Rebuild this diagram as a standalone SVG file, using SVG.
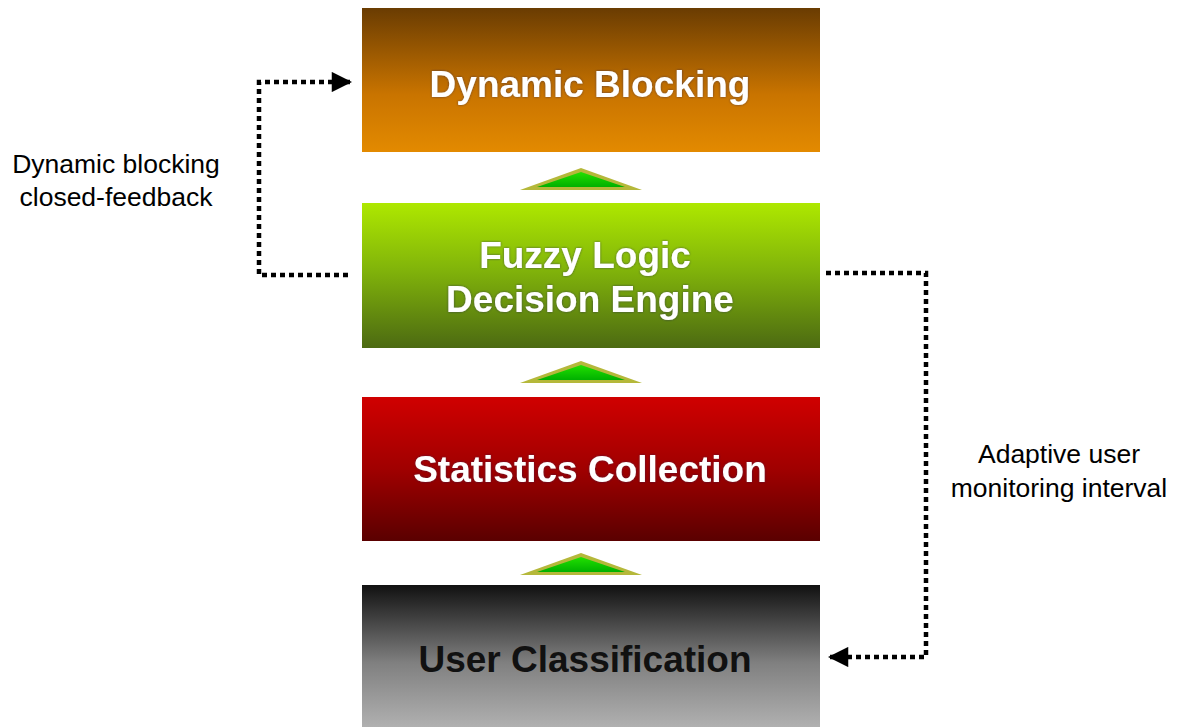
<svg xmlns="http://www.w3.org/2000/svg" width="1179" height="727" viewBox="0 0 1179 727">
  <defs>
    <linearGradient id="gBlock" x1="0" y1="0" x2="0" y2="1">
      <stop offset="0" stop-color="#6a3c02"/>
      <stop offset="0.6" stop-color="#c97400"/>
      <stop offset="1" stop-color="#e38a00"/>
    </linearGradient>
    <linearGradient id="gFuzzy" x1="0" y1="0" x2="0" y2="1">
      <stop offset="0" stop-color="#aee800"/>
      <stop offset="0.45" stop-color="#82b50a"/>
      <stop offset="1" stop-color="#4c6a12"/>
    </linearGradient>
    <linearGradient id="gStats" x1="0" y1="0" x2="0" y2="1">
      <stop offset="0" stop-color="#d00000"/>
      <stop offset="0.5" stop-color="#a00000"/>
      <stop offset="1" stop-color="#5a0000"/>
    </linearGradient>
    <linearGradient id="gUser" x1="0" y1="0" x2="0" y2="1">
      <stop offset="0" stop-color="#111111"/>
      <stop offset="0.55" stop-color="#808080"/>
      <stop offset="1" stop-color="#b0b0b0"/>
    </linearGradient>
    <linearGradient id="gTri" x1="0" y1="0" x2="0" y2="1">
      <stop offset="0" stop-color="#22e000"/>
      <stop offset="1" stop-color="#00b000"/>
    </linearGradient>
    <filter id="glow" x="-10%" y="-30%" width="120%" height="160%">
      <feGaussianBlur in="SourceAlpha" stdDeviation="1.2" result="b"/>
      <feFlood flood-color="#2a2a60" flood-opacity="0.7"/>
      <feComposite in2="b" operator="in" result="s"/>
      <feMerge><feMergeNode in="s"/><feMergeNode in="SourceGraphic"/></feMerge>
    </filter>
    <marker id="arrow" viewBox="0 0 10 10" refX="9" refY="5" markerWidth="5" markerHeight="4.5" orient="auto" markerUnits="strokeWidth">
      <path d="M0,0 L10,5 L0,10 z" fill="#000"/>
    </marker>
    <g id="tri">
      <polygon points="-61,22 0,0 61,22" fill="#b5b83a"/>
      <polygon points="-44,19 0,4 44,19" fill="url(#gTri)"/>
    </g>
  </defs>
  <style>
    .box-title { font-family: "Liberation Sans", Arial, sans-serif; font-weight: bold; font-size: 37px; text-anchor: middle; fill: #ffffff; }
    .dark { fill: #111111; }
    .note { font-family: "Liberation Sans", Arial, sans-serif; font-size: 26.5px; text-anchor: middle; fill: #000000; }
    .dots { fill: none; stroke: #000; stroke-width: 4.5; stroke-dasharray: 5 4; }
  </style>
  <rect width="1179" height="727" fill="#ffffff"/>

  <g id="node-dynamic-blocking">
    <rect x="362" y="8" width="458" height="144" fill="url(#gBlock)"/>
    <text class="box-title" x="590" y="97" filter="url(#glow)">Dynamic Blocking</text>
  </g>

  <g id="node-fuzzy-logic">
    <rect x="362" y="203" width="458" height="145" fill="url(#gFuzzy)"/>
    <text class="box-title" x="585" y="268" filter="url(#glow)">Fuzzy Logic</text>
    <text class="box-title" x="590" y="312" filter="url(#glow)">Decision Engine</text>
  </g>

  <g id="node-statistics">
    <rect x="362" y="397" width="458" height="144" fill="url(#gStats)"/>
    <text class="box-title" x="590" y="482" filter="url(#glow)">Statistics Collection</text>
  </g>

  <g id="node-user-classification">
    <rect x="362" y="585" width="458" height="142" fill="url(#gUser)"/>
    <text class="box-title dark" x="585" y="672">User Classification</text>
  </g>

  <g id="connectors">
    <use href="#tri" x="581" y="168"/>
    <use href="#tri" x="581" y="361"/>
    <use href="#tri" x="581" y="553"/>
    <polyline class="dots" points="348,275 259,275 259,82 350,82" marker-end="url(#arrow)"/>
    <polyline class="dots" points="826,273 926,273 926,657 830,657" marker-end="url(#arrow)"/>
  </g>

  <g id="labels">
    <text class="note" x="116" y="173">Dynamic blocking</text>
    <text class="note" x="116" y="206">closed-feedback</text>
    <text class="note" x="1059" y="463">Adaptive user</text>
    <text class="note" x="1059" y="497">monitoring interval</text>
  </g>
</svg>
